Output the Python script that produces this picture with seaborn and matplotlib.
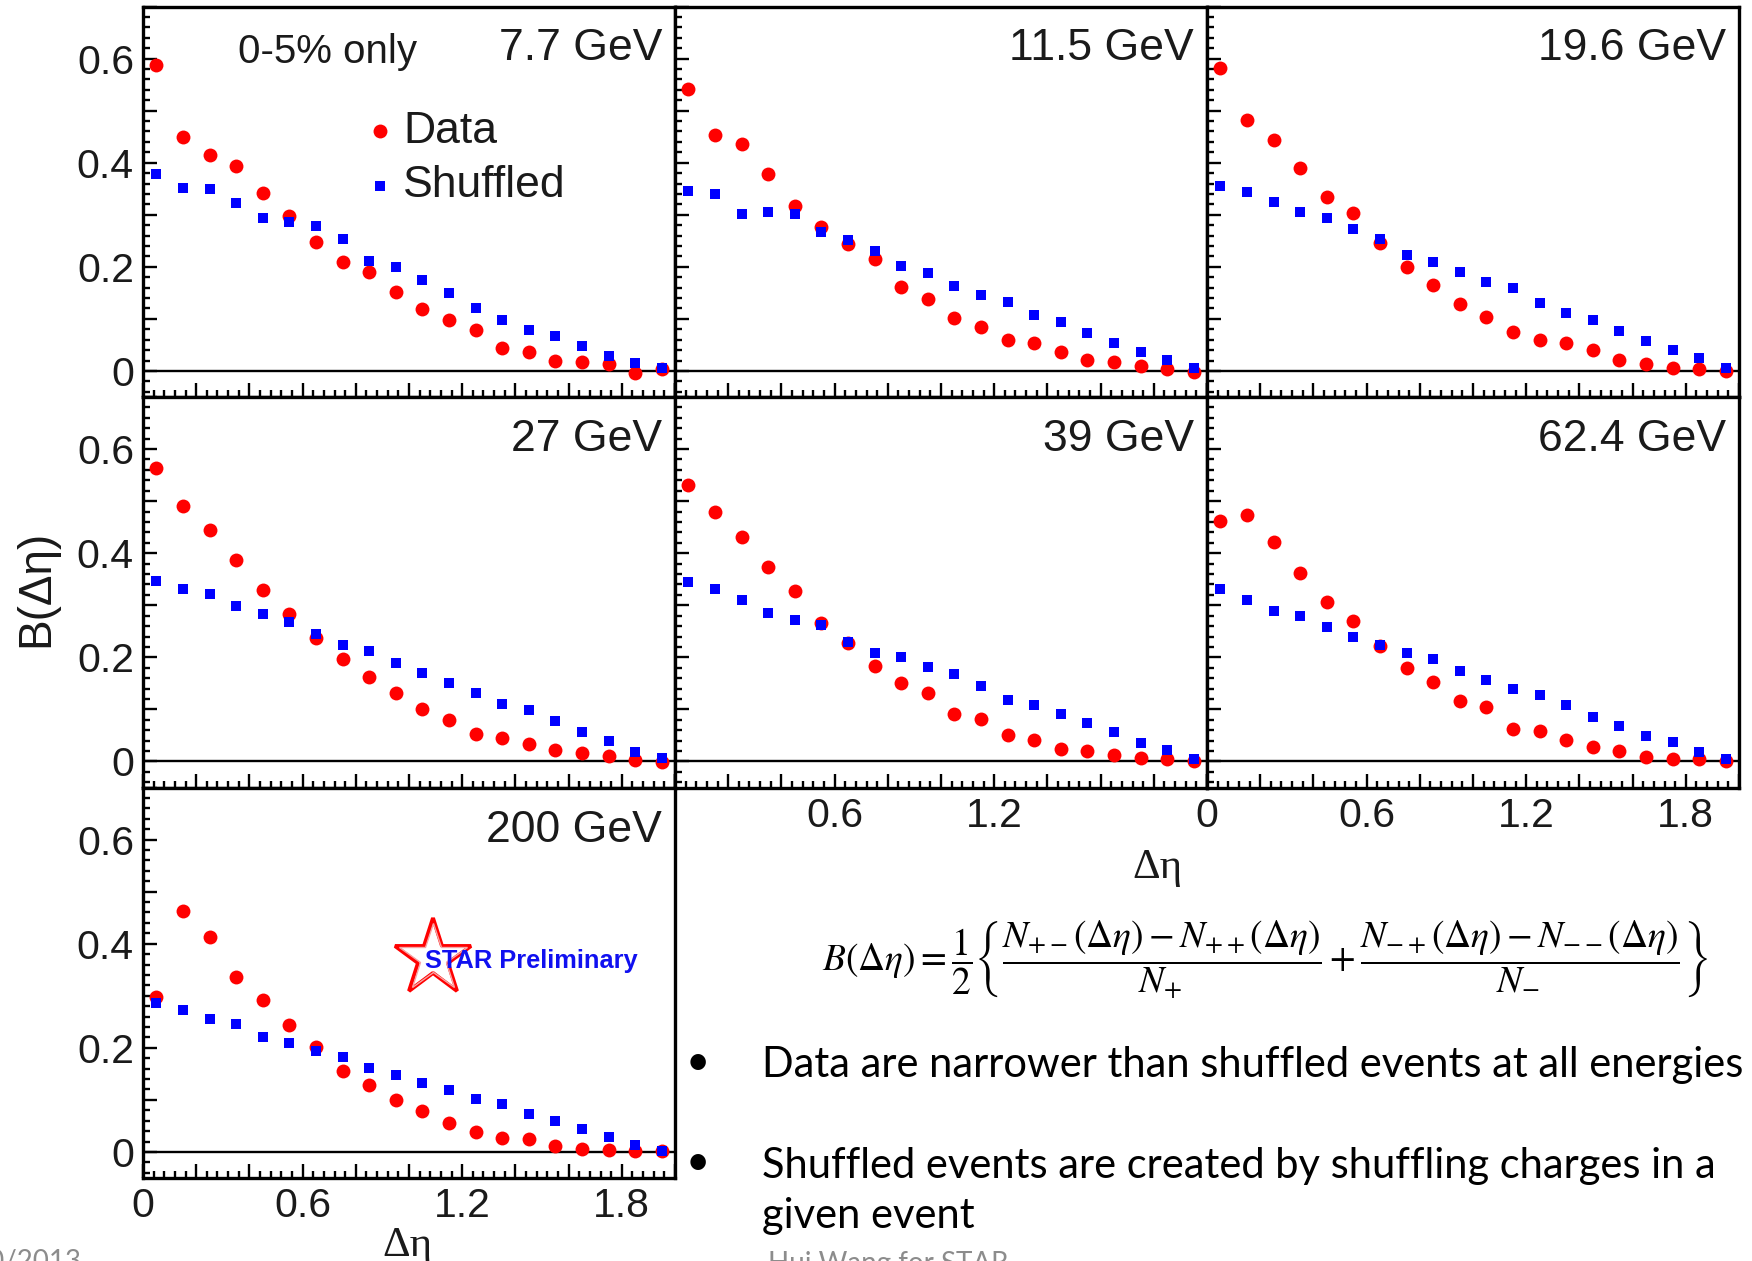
import matplotlib
matplotlib.use("Agg")
import matplotlib.pyplot as plt
from matplotlib.ticker import MultipleLocator, FuncFormatter
import pandas as pd
import seaborn as sns

# ---------------------------------------------------------------- data
deta = [0.05, 0.15, 0.25, 0.35, 0.45, 0.55, 0.65, 0.75, 0.85, 0.95,
        1.05, 1.15, 1.25, 1.35, 1.45, 1.55, 1.65, 1.75, 1.85, 1.95]

energies = ["7.7 GeV", "11.5 GeV", "19.6 GeV", "27 GeV", "39 GeV", "62.4 GeV", "200 GeV"]

data_7p7 = [0.587, 0.450, 0.415, 0.394, 0.342, 0.297, 0.248, 0.210, 0.191, 0.152,
            0.119, 0.097, 0.078, 0.044, 0.037, 0.019, 0.017, 0.013, -0.003, 0.004]
shuf_7p7 = [0.378, 0.352, 0.350, 0.322, 0.294, 0.287, 0.278, 0.253, 0.211, 0.199,
            0.174, 0.149, 0.120, 0.097, 0.079, 0.067, 0.047, 0.029, 0.016, 0.006]

data_11p5 = [0.542, 0.453, 0.435, 0.379, 0.317, 0.276, 0.244, 0.215, 0.162, 0.139,
             0.101, 0.085, 0.060, 0.053, 0.037, 0.022, 0.017, 0.010, 0.004, -0.002]
shuf_11p5 = [0.346, 0.340, 0.301, 0.305, 0.301, 0.267, 0.251, 0.231, 0.201, 0.189,
             0.163, 0.145, 0.132, 0.107, 0.094, 0.072, 0.054, 0.037, 0.021, 0.006]

data_19p6 = [0.581, 0.482, 0.443, 0.390, 0.335, 0.304, 0.246, 0.199, 0.165, 0.128,
             0.104, 0.074, 0.060, 0.053, 0.040, 0.022, 0.013, 0.005, 0.004, 0.000]
shuf_19p6 = [0.356, 0.343, 0.325, 0.305, 0.293, 0.273, 0.253, 0.222, 0.210, 0.190,
             0.171, 0.160, 0.130, 0.112, 0.098, 0.076, 0.058, 0.040, 0.024, 0.006]

data_27 = [0.563, 0.490, 0.444, 0.387, 0.329, 0.284, 0.238, 0.196, 0.162, 0.131,
           0.100, 0.079, 0.053, 0.046, 0.034, 0.022, 0.017, 0.010, 0.002, -0.001]
shuf_27 = [0.347, 0.331, 0.322, 0.299, 0.284, 0.268, 0.244, 0.224, 0.212, 0.190,
           0.170, 0.151, 0.131, 0.111, 0.098, 0.077, 0.057, 0.039, 0.019, 0.006]

data_39 = [0.531, 0.479, 0.432, 0.374, 0.327, 0.265, 0.228, 0.183, 0.150, 0.132,
           0.092, 0.082, 0.051, 0.042, 0.024, 0.020, 0.012, 0.007, 0.004, 0.001]
shuf_39 = [0.345, 0.332, 0.310, 0.285, 0.271, 0.262, 0.230, 0.208, 0.201, 0.181,
           0.168, 0.145, 0.118, 0.109, 0.092, 0.073, 0.056, 0.035, 0.022, 0.004]

data_62p4 = [0.461, 0.473, 0.421, 0.362, 0.306, 0.270, 0.222, 0.179, 0.152, 0.117,
             0.104, 0.062, 0.059, 0.041, 0.028, 0.021, 0.009, 0.004, 0.005, 0.001]
shuf_62p4 = [0.332, 0.311, 0.289, 0.280, 0.258, 0.239, 0.224, 0.208, 0.197, 0.174,
             0.156, 0.140, 0.127, 0.109, 0.086, 0.068, 0.049, 0.037, 0.019, 0.004]

data_200 = [0.297, 0.462, 0.412, 0.336, 0.292, 0.244, 0.201, 0.156, 0.129, 0.100,
            0.078, 0.055, 0.038, 0.027, 0.024, 0.012, 0.006, 0.004, 0.001, 0.001]
shuf_200 = [0.287, 0.272, 0.256, 0.246, 0.220, 0.209, 0.193, 0.183, 0.162, 0.148,
            0.133, 0.119, 0.101, 0.092, 0.072, 0.060, 0.045, 0.029, 0.013, 0.002]

series_data = [data_7p7, data_11p5, data_19p6, data_27, data_39, data_62p4, data_200]
series_shuf = [shuf_7p7, shuf_11p5, shuf_19p6, shuf_27, shuf_39, shuf_62p4, shuf_200]

x_label_values = [0.0, 0.6, 1.2, 1.8]
y_label_values = [0.0, 0.2, 0.4, 0.6]

frames = []
for name, d, s in zip(energies, series_data, series_shuf):
    frames.append(pd.DataFrame({"energy": name, "deta": deta, "B": d, "kind": "Data"}))
    frames.append(pd.DataFrame({"energy": name, "deta": deta, "B": s, "kind": "Shuffled"}))
df = pd.concat(frames, ignore_index=True)

# ---------------------------------------------------------------- style
sns.set_theme(style="white")
plt.rcParams["font.family"] = ["Liberation Sans", "DejaVu Sans"]
plt.rcParams["mathtext.fontset"] = "stix"

W, H = 1752, 1261
fig = plt.figure(figsize=(W / 100, H / 100), dpi=100, facecolor="white")


def fx(x):
    return x / W


def fy(y):
    return 1 - y / H


col_left = [143, 675, 1207]
row_top = [6.5, 397, 787.5]
pw, ph = 532, 390.5
layout = [(0, 0), (0, 1), (0, 2), (1, 0), (1, 1), (1, 2), (2, 0)]

# which tick labels each panel carries
x_labels_for = {4: [0.6, 1.2], 5: x_label_values, 6: x_label_values}


def make_xfmt(values):
    def f(v, pos):
        for t in values:
            if abs(v - t) < 1e-6:
                return "0" if t == 0 else f"{t:.1f}"
        return ""
    return f


def yfmt(v, pos):
    for t in y_label_values:
        if abs(v - t) < 1e-6:
            return "0" if t == 0 else f"{t:.1f}"
    return ""


def no_label(v, pos):
    return ""


RED = "#ff0000"
BLUE = "#0000ff"
INK = "#1a1a1a"
axes = []
for i, (r, c) in enumerate(layout):
    l, t = col_left[c], row_top[r]
    ax = fig.add_axes([fx(l), fy(t + ph), pw / W, ph / H])
    axes.append(ax)
    sub = df[df["energy"] == energies[i]]
    sns.scatterplot(data=sub[sub["kind"] == "Data"], x="deta", y="B", ax=ax,
                    color=RED, marker="o", s=100, linewidth=0, zorder=3, legend=False)
    sns.scatterplot(data=sub[sub["kind"] == "Shuffled"], x="deta", y="B", ax=ax,
                    color=BLUE, marker="s", s=56, linewidth=0, zorder=4, legend=False)
    ax.axhline(0, color="black", lw=1.7, zorder=2)
    ax.set_xlim(0, 2.0)
    ax.set_ylim(-0.05, 0.70)
    ax.set_xlabel("")
    ax.set_ylabel("")
    ax.xaxis.set_major_locator(MultipleLocator(0.2))
    ax.xaxis.set_minor_locator(MultipleLocator(0.04))
    ax.yaxis.set_major_locator(MultipleLocator(0.1))
    ax.yaxis.set_minor_locator(MultipleLocator(0.02))
    ax.xaxis.set_major_formatter(FuncFormatter(make_xfmt(x_labels_for.get(i, []))))
    ax.yaxis.set_major_formatter(FuncFormatter(yfmt if c == 0 else no_label))
    ax.tick_params(which="both", direction="in", bottom=True, left=True,
                   top=False, right=False, color="black", width=1.7,
                   labelsize=29.5, pad=6.5, labelcolor=INK)
    ax.tick_params(which="major", length=10)
    ax.tick_params(which="minor", length=5)
    for sp in ax.spines.values():
        sp.set_color("black")
        sp.set_linewidth(2.4)
        sp.set_zorder(5)
    ax.text(1 - 13 / pw, 1 - 54 / ph, energies[i], transform=ax.transAxes,
            ha="right", va="baseline", fontsize=32, color=INK)

# centrality note and legend in the first panel
ax0 = axes[0]
fig.text(fx(238), fy(63), "0-5% only", ha="left", va="baseline", fontsize=29,
         color=INK)
handles = [ax0.collections[0], ax0.collections[1]]
ax0.legend(handles=handles, labels=["Data", "Shuffled"], loc="upper left",
           bbox_to_anchor=(fx(370), fy(111)), bbox_transform=fig.transFigure,
           frameon=False, prop={"family": "Liberation Sans", "size": 32},
           handlelength=0.45, handletextpad=0.3, labelspacing=0.3,
           borderpad=0, borderaxespad=0, labelcolor=INK)

# STAR Preliminary mark in the 200 GeV panel
ax7 = axes[6]
sx = (432.5 - col_left[0]) / pw
sy = 1 - (958 - row_top[2]) / ph
ax7.plot([sx], [sy], transform=ax7.transAxes, marker="*", markersize=58,
         markerfacecolor="white", markeredgecolor=RED, markeredgewidth=2.8,
         clip_on=False, zorder=6)
ax7.plot([sx], [sy], transform=ax7.transAxes, marker="*", markersize=51,
         markerfacecolor="none", markeredgecolor="#f7a5a5", markeredgewidth=1.0,
         clip_on=False, zorder=6)
fig.text(fx(425), fy(968), "STAR Preliminary", ha="left", va="baseline",
         fontsize=18.3, fontweight="bold", color="#1010f0", zorder=7)

# axis titles
fig.text(fx(36), fy(588), "B(Δη)", rotation=90, ha="center", va="center",
         fontsize=33, color=INK)
fig.text(fx(407), fy(1256), "Δη", ha="center", va="baseline", fontsize=31,
         family="Liberation Serif", color=INK)
fig.text(fx(1157), fy(878), "Δη", ha="center", va="baseline", fontsize=31,
         family="Liberation Serif", color=INK)

# balance function definition
formula = (r"$B(\Delta\eta) = \dfrac{1}{2}\left\{\dfrac{N_{+-}(\Delta\eta)-N_{++}(\Delta\eta)}{N_{+}}"
           r" + \dfrac{N_{-+}(\Delta\eta)-N_{--}(\Delta\eta)}{N_{-}}\right\}$")
fig.text(fx(822), fy(960), formula, ha="left", va="center", fontsize=27, color="black")

# bullet notes
note_font = ["Lato", "DejaVu Sans"]
fig.text(fx(698), fy(1063), "•", ha="center", va="center", fontsize=30,
         family=note_font, color="black")
fig.text(fx(698), fy(1163), "•", ha="center", va="center", fontsize=30,
         family=note_font, color="black")
fig.text(fx(762), fy(1077), "Data are narrower than shuffled events at all energies",
         ha="left", va="baseline", fontsize=30, family=note_font, color="black")
fig.text(fx(762), fy(1178), "Shuffled events are created by shuffling charges in a",
         ha="left", va="baseline", fontsize=30, family=note_font, color="black")
fig.text(fx(762), fy(1228), "given event",
         ha="left", va="baseline", fontsize=30, family=note_font, color="black")

# footer
fig.text(fx(768), fy(1272), "Hui Wang for STAR", ha="left", va="baseline",
         fontsize=20, family=note_font, color="#8c8c8c")
fig.text(fx(82), fy(1270), "10/2013", ha="right", va="baseline",
         fontsize=20, family=note_font, color="#8c8c8c")

fig.savefig("out.png", dpi=100, facecolor="white")
